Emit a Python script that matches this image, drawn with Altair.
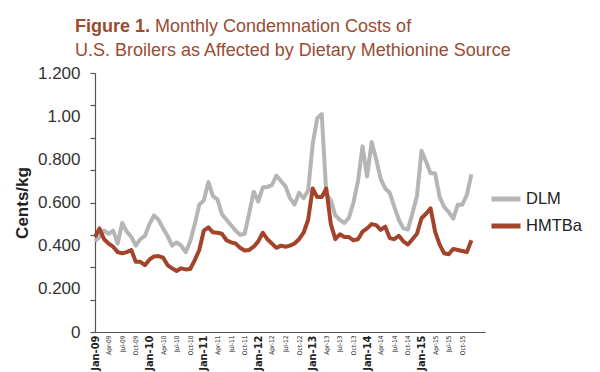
import altair as alt
import pandas as pd

# ---- data ----
dlm = [0.42, 0.44, 0.47, 0.455, 0.47, 0.41, 0.505, 0.465, 0.44, 0.40,
       0.43, 0.445, 0.50, 0.54, 0.52, 0.48, 0.445, 0.40, 0.415, 0.40,
       0.37, 0.42, 0.50, 0.59, 0.61, 0.695, 0.63, 0.615, 0.545, 0.52,
       0.495, 0.47, 0.45, 0.455, 0.55, 0.65, 0.605, 0.67, 0.672, 0.68,
       0.725, 0.70, 0.675, 0.62, 0.59, 0.645, 0.62, 0.655, 0.87, 0.99,
       1.01, 0.64, 0.61, 0.54, 0.52, 0.505, 0.53, 0.60, 0.70, 0.86,
       0.72, 0.88, 0.80, 0.71, 0.665, 0.645, 0.58, 0.52, 0.48, 0.475,
       0.55, 0.63, 0.84, 0.79, 0.735, 0.735, 0.625, 0.58, 0.555, 0.525,
       0.59, 0.59, 0.635, 0.73]
hmtba = [0.44, 0.48, 0.43, 0.41, 0.395, 0.37, 0.365, 0.37, 0.38, 0.325,
         0.325, 0.31, 0.335, 0.35, 0.352, 0.345, 0.31, 0.295, 0.283, 0.295,
         0.29, 0.292, 0.333, 0.38, 0.47, 0.485, 0.462, 0.46, 0.455, 0.425,
         0.415, 0.41, 0.39, 0.378, 0.38, 0.395, 0.42, 0.46, 0.43, 0.41,
         0.39, 0.40, 0.395, 0.40, 0.41, 0.43, 0.46, 0.52, 0.665, 0.625,
         0.625, 0.665, 0.50, 0.43, 0.453, 0.44, 0.44, 0.425, 0.43, 0.465,
         0.48, 0.50, 0.495, 0.473, 0.488, 0.435, 0.43, 0.446, 0.42, 0.405,
         0.43, 0.455, 0.527, 0.548, 0.573, 0.465, 0.405, 0.365, 0.36, 0.385,
         0.38, 0.375, 0.37, 0.425]
series_names = ["DLM", "HMTBa"]
series_colors = ["#b5b5b5", "#a2442a"]

tick_labels = ["Jan-09", "Apr-09", "Jul-09", "Oct-09",
               "Jan-10", "Apr-10", "Jul-10", "Oct-10",
               "Jan-11", "Apr-11", "Jul-11", "Oct-11",
               "Jan-12", "Apr-12", "Jul-12", "Oct-12",
               "Jan-13", "Apr-13", "Jul-13", "Oct-13",
               "Jan-14", "Apr-14", "Jul-14", "Oct-14",
               "Jan-15", "Apr-15", "Jul-15", "Oct-15"]
tick_positions = [3 * k for k in range(len(tick_labels))]

y_label_values = [0, 0.2, 0.4, 0.6, 0.8, 1.0, 1.2]
y_tick_values = [0, 0.15, 0.3, 0.45, 0.6, 0.75, 0.9, 1.05, 1.2]

title_bold = ["Figure 1."]
title_line1 = ["Monthly Condemnation Costs of"]
title_line2 = ["U.S. Broilers as Affected by Dietary Methionine Source"]

TITLE_COLOR = "#9b4b30"
FONT = "Liberation Sans"
NARROW = "Liberation Sans Narrow, DejaVu Sans Condensed, sans-serif"

months = list(range(len(dlm)))
df = pd.DataFrame({
    "month": months + months,
    "value": dlm + hmtba,
    "series": ["DLM"] * len(dlm) + ["HMTBa"] * len(hmtba),
})

x_expr = "[" + ",".join("'%s'" % s for s in tick_labels) + "][round(datum.value/3)]"

x_enc = alt.X(
    "month:Q",
    scale=alt.Scale(domain=[0, 86], nice=False, zero=False),
    axis=alt.Axis(
        values=tick_positions,
        labelExpr=x_expr,
        labelAngle=270,
        labelAlign="right",
        labelBaseline="middle",
        labelPadding=3,
        labelFont=NARROW,
        labelFontSize={"condition": {"test": "datum.value % 12 == 0", "value": 11}, "value": 6.5},
        labelFontWeight={"condition": {"test": "datum.value % 12 == 0", "value": "bold"}, "value": "normal"},
        labelColor="#222222",
        labelOverlap=False,
        ticks=False,
        grid=False,
        domainColor="#555555",
        domainWidth=1.2,
        title=None,
    ),
)

y_scale = alt.Scale(domain=[0, 1.2], nice=False)

lines = alt.Chart(df).mark_line(strokeWidth=4, strokeJoin="round").encode(
    x=x_enc,
    y=alt.Y(
        "value:Q",
        scale=y_scale,
        axis=alt.Axis(
            orient="left",
            values=y_label_values,
            labelExpr="datum.value == 0 ? '0' : (datum.value == 1 ? '1.00' : format(datum.value, '.3f'))",
            labelFontSize=17,
            labelColor="#333333",
            labelPadding=15,
            ticks=False,
            grid=False,
            domainColor="#555555",
            domainWidth=1.2,
            title="Cents/kg",
            titleFontSize=17,
            titleFontWeight="bold",
            titleColor="#222222",
            titlePadding=6,
        ),
    ),
    color=alt.Color(
        "series:N",
        scale=alt.Scale(domain=series_names, range=series_colors),
        legend=alt.Legend(
            orient="none",
            legendX=394,
            legendY=109,
            title=None,
            symbolType="stroke",
            symbolSize=841,
            symbolStrokeWidth=5,
            labelFontSize=16.5,
            labelColor="#222222",
            labelOffset=3,
            rowPadding=-4,
            padding=0,
        ),
    ),
)

tick_df = pd.DataFrame({"v": y_tick_values})
minor_ticks = alt.Chart(tick_df).mark_point(opacity=0).encode(
    y=alt.Y(
        "v:Q",
        scale=y_scale,
        axis=alt.Axis(
            orient="left",
            values=y_tick_values,
            labels=False,
            domain=False,
            ticks=True,
            tickSize=5,
            tickColor="#555555",
            tickWidth=1.2,
            grid=False,
            title=None,
        ),
    ),
)

t_bold = alt.Chart(pd.DataFrame({"t": title_bold})).mark_text(
    align="left", baseline="alphabetic", font=FONT, fontSize=18,
    fontWeight="bold", color=TITLE_COLOR,
).encode(x=alt.value(-20), y=alt.value(-41), text="t:N")

t_l1 = alt.Chart(pd.DataFrame({"t": title_line1})).mark_text(
    align="left", baseline="alphabetic", font=FONT, fontSize=18,
    color=TITLE_COLOR,
).encode(x=alt.value(60), y=alt.value(-41), text="t:N")

t_l2 = alt.Chart(pd.DataFrame({"t": title_line2})).mark_text(
    align="left", baseline="alphabetic", font=FONT, fontSize=18,
    color=TITLE_COLOR,
).encode(x=alt.value(-20), y=alt.value(-17), text="t:N")

chart = alt.layer(lines, minor_ticks, t_bold, t_l1, t_l2).resolve_axis(
    y="independent"
).properties(
    width=390,
    height=259,
    autosize=alt.AutoSizeParams(type="none"),
    padding={"left": 87, "top": 65, "right": 105, "bottom": 48},
).configure(
    font=FONT,
).configure_view(
    stroke=None,
)

chart.save("out.html", embed_options={"renderer": "svg", "actions": False})
